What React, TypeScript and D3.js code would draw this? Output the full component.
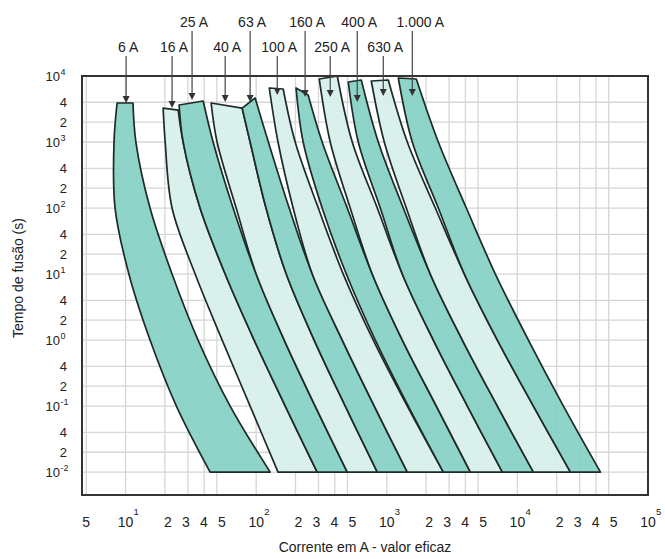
import React from "react";
import * as d3 from "d3";

// fuse ratings (labels above the plot)
const fuseNames = ["6 A", "16 A", "25 A", "40 A", "63 A", "100 A", "160 A", "250 A", "400 A", "630 A", "1.000 A"];

// melting-time levels (s) at which the band edges were read
const timeLevels = [1000, 100, 10, 1, 0.1, 0.01];

// top corners of every band: [current A, time s]
const topLeft = [
  [8.61, 3900], [19.4, 3270], [25.7, 3640], [45.2, 3900], [78.1, 3270], [126, 6580],
  [202, 6580], [304, 9010], [507, 8110], [761, 8400], [1225, 9330],
];
const topRight = [
  [11.4, 3900], [25.3, 3050], [39.3, 4180], [78.1, 3270], [98.2, 4640], [161, 6350],
  [250, 5150], [418, 10000], [638, 8700], [1027, 8700], [1683, 9010],
];

// current (A) of the left / right edge at each time level
const leftEdge = [
  [8.16, 8.31, 10.6, 15.4, 24.5, 44.4],
  [20.1, 22.7, 34.1, 54.9, 89.9, 147],
  [27.6, 37.2, 57.9, 96.5, 167, 293],
  [50.2, 70.3, 100, 164, 283, 498],
  [89.9, 119, 170, 278, 481, 846],
  [147, 192, 269, 456, 802, 1436],
  [229, 320, 490, 817, 1461, 2710],
  [369, 525, 774, 1315, 2395, 4364],
  [605, 892, 1315, 2272, 4140, 7676],
  [957, 1411, 2154, 3789, 7025, 13260],
  [1568, 2481, 3926, 7025, 13260, 25480],
];
const rightEdge = [
  [12.0, 15.4, 22.7, 35.9, 63.2, 128],
  [27.6, 37.2, 57.9, 96.5, 167, 293],
  [46.8, 66.6, 100, 164, 283, 498],
  [89.9, 119, 170, 278, 481, 846],
  [124, 179, 269, 456, 802, 1436],
  [199, 299, 464, 788, 1436, 2710],
  [320, 498, 774, 1315, 2395, 4364],
  [544, 846, 1315, 2272, 4140, 7676],
  [861, 1338, 2154, 3789, 7025, 13260],
  [1436, 2353, 3926, 7025, 13260, 25480],
  [2481, 4067, 6782, 12140, 22520, 43250],
];

// where each label arrow points
const arrowCurrent = [10.1, 22.7, 32.3, 57.9, 89.9, 145, 237, 369, 594, 940, 1568];
const arrowTime = [3900, 3270, 4330, 4030, 4030, 5150, 4810, 4810, 4030, 4980, 4980];

// axis ticks
const xDecades = [1, 2, 3, 4, 5];
const xSubs = [2, 3, 4, 5];
const yDecades = [-2, -1, 0, 1, 2, 3, 4];
const ySubs = [1, 2, 4];

const font = "'Liberation Sans', Arial, Helvetica, sans-serif";
const dark = "#86d0c3";
const light = "#d7efea";

export default function App() {
  const width = 665;
  const height = 559;
  const left = 82, right = 648, top = 76, bottom = 495;

  const x = d3.scaleLog().domain([4.64, 1e5]).range([left, right]);
  const y = d3.scaleLog().domain([0.0045, 1e4]).range([bottom, top]);

  const edge = d3
    .line<number[]>()
    .x((d) => x(d[0]))
    .y((d) => y(d[1]))
    .curve(d3.curveCatmullRom.alpha(0.5));

  const bandPath = (i: number) => {
    const l = [topLeft[i], ...timeLevels.map((t, j) => [leftEdge[i][j], t])];
    const r = [topRight[i], ...timeLevels.map((t, j) => [rightEdge[i][j], t])].reverse();
    return edge(l) + (edge(r) || "").replace(/^M/, "L") + "Z";
  };

  const xGrid: number[] = [5];
  for (let k = 1; k <= 4; k++) [1, 2, 3, 4, 5].forEach((m) => xGrid.push(m * 10 ** k));
  const yGrid: { v: number; m: number; k: number }[] = [];
  yDecades.forEach((k) =>
    ySubs.forEach((m) => {
      const v = m * 10 ** k;
      if (v <= 1e4) yGrid.push({ v, m, k });
    })
  );

  return (
    <svg
      width={width}
      height={height}
      style={{ position: "absolute", left: 0, top: 0, background: "#fff" }}
      fontFamily={font}
    >
      {/* grid */}
      <g stroke="#d6d6d6" strokeWidth={1.3}>
        {xGrid.map((v) => (
          <line key={"gx" + v} x1={x(v)} x2={x(v)} y1={top} y2={bottom} />
        ))}
        {yGrid.map((d) => (
          <line key={"gy" + d.v} x1={left} x2={right} y1={y(d.v)} y2={y(d.v)} />
        ))}
      </g>

      {/* fuse bands */}
      <g stroke="#1d2b28" strokeWidth={1.7} strokeLinejoin="round">
        {fuseNames.map((n, i) => (
          <path key={n} d={bandPath(i)} fill={i % 2 === 0 ? dark : light} fillOpacity={0.92} />
        ))}
      </g>

      {/* frame */}
      <rect x={left} y={top} width={right - left} height={bottom - top} fill="none" stroke="#333" strokeWidth={2} />

      {/* y tick labels */}
      <g fontSize={13} fill="#222">
        {yGrid.map((d) =>
          d.m === 1 ? (
            <g key={"yl" + d.v}>
              <text x={60} y={y(d.v) + 4.5} textAnchor="end">10</text>
              <text x={60.5} y={y(d.v) - 1} fontSize={9}>{String(d.k)}</text>
            </g>
          ) : (
            <text key={"yl" + d.v} x={67} y={y(d.v) + 4.5} textAnchor="end">
              {d.m}
            </text>
          )
        )}
      </g>

      {/* x tick labels */}
      <g fontSize={14} fill="#222">
        <text x={x(5)} y={527} textAnchor="middle">5</text>
        {xDecades.map((k) => (
          <g key={"xd" + k}>
            <text x={x(10 ** k)} y={527} textAnchor="middle">10</text>
            <text x={x(10 ** k) + 8} y={515} fontSize={9.5}>{k}</text>
          </g>
        ))}
        {xDecades.slice(0, 4).map((k) =>
          xSubs.map((m, i) => (
            <text key={"xs" + k + m} x={x(2 * 10 ** k) + 3 + i * 18} y={527} textAnchor="middle">
              {m}
            </text>
          ))
        )}
      </g>

      {/* axis titles */}
      <text x={365} y={552} textAnchor="middle" fontSize={14} fill="#222">
        Corrente em A - valor eficaz
      </text>
      <text transform="translate(23,278) rotate(-90)" textAnchor="middle" fontSize={14} fill="#222">
        Tempo de fusão (s)
      </text>

      {/* rating labels with arrows */}
      <g fill="#222" stroke="none">
        {fuseNames.map((n, i) => {
          const ax = x(arrowCurrent[i]);
          const ay = y(arrowTime[i]);
          const row1 = i > 0 && i % 2 === 0;
          const base = row1 ? 27 : 52;
          const nudge = n === "1.000 A" ? 8 : 2;
          return (
            <g key={"lab" + n}>
              <text x={ax + nudge} y={base} textAnchor="middle" fontSize={14}>
                {n}
              </text>
              <line x1={ax} x2={ax} y1={base + 4} y2={ay - 6} stroke="#444" strokeWidth={1.2} />
              <path d={`M${ax},${ay}L${ax - 3.5},${ay - 7}L${ax + 3.5},${ay - 7}Z`} fill="#333" />
            </g>
          );
        })}
      </g>
    </svg>
  );
}
